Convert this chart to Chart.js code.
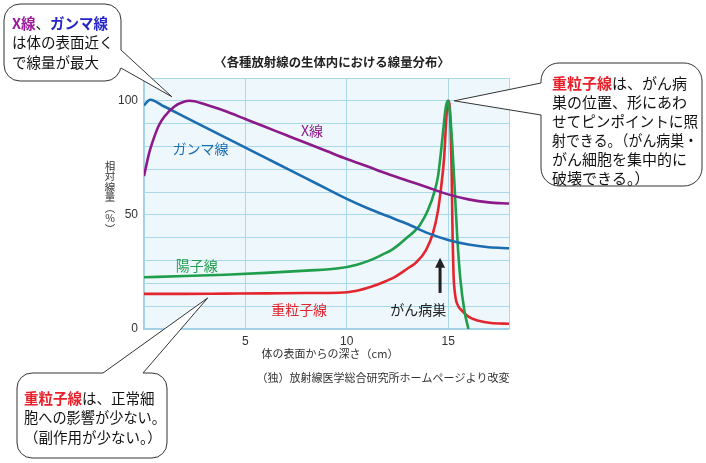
<!DOCTYPE html>
<html>
<head>
<meta charset="utf-8">
<script src="https://cdn.jsdelivr.net/npm/chart.js@4"></script>
<style>
  html, body { margin: 0; padding: 0; background: #fff; }
</style>
</head>
<body>
<canvas id="chart" width="706" height="463"></canvas>
<script>
// depth (cm) / relative dose (%)
const depthXray = [0, 0.25, 0.5, 0.75, 1, 1.5, 2, 2.25, 3, 4, 5, 6, 7, 8, 9, 10, 11, 12, 13, 14, 15, 16, 17, 18];
const doseXray  = [67, 77, 84, 89.5, 93, 97.5, 99.7, 100, 98.5, 95.5, 92, 88.5, 85, 81.5, 78, 74.5, 71.3, 68, 65, 62, 59, 56.8, 55.5, 55];

const depthGamma = [0, 0.3, 1, 2, 3, 4, 5, 6, 7, 8, 9, 10, 11, 12, 13, 14, 15, 16, 17, 18];
const doseGamma  = [98, 100.5, 97.5, 93, 88.5, 84, 79.5, 75, 70.5, 66, 61.5, 57, 53, 49.5, 46, 42, 39, 37, 35.8, 35.4];

const depthProton = [0, 2, 4, 6, 8, 9.6, 10.5, 11.2, 11.8, 12.2, 12.6, 13, 13.3, 13.6, 14, 14.35, 14.5, 14.65, 14.8, 14.88, 14.97, 15.06, 15.15, 15.3, 15.45, 15.6, 15.8, 16];
const doseProton  = [22.7, 23.2, 23.8, 24.6, 25.6, 26.6, 28.2, 30.3, 32.8, 34.6, 37.2, 40.3, 42.5, 45.5, 52, 61, 67, 78, 91, 97, 100, 97, 88, 65, 40, 22, 8, 0];

const depthCarbon = [0, 2, 4, 6, 8, 9.6, 10.5, 11.2, 11.8, 12.4, 13, 13.4, 13.9, 14.25, 14.5, 14.65, 14.8, 14.9, 14.96, 15.02, 15.08, 15.12, 15.17, 15.22, 15.26, 15.36, 15.5, 15.65, 16, 16.5, 17.1, 18];
const doseCarbon  = [15.4, 15.4, 15.5, 15.6, 15.8, 15.9, 16.8, 18.5, 20.5, 23, 26.5, 29, 34.5, 42, 52, 62, 75, 91, 98, 100, 97, 88, 70, 40, 25, 14, 10, 8.3, 5.4, 3.6, 2.6, 2.3];

const xMax = 18, xStep = 5, xLabelEvery = 5;
const yMax = 110, yStep = 10, yLabelEvery = 50;

const JP = '"Noto Sans CJK JP", sans-serif';
const PURPLE = '#8c1a8a', BLUE = '#1c6db0', GREEN = '#1f9e4b', RED = '#e3262e';

function pts(xs, ys) {
    return xs.map(function(x, i) { return { x: x, y: ys[i] }; });
}

function series(label, xs, ys, color) {
    return {
        label: label,
        data: pts(xs, ys),
        borderColor: color,
        borderWidth: 2.6,
        pointRadius: 0,
        fill: false,
        cubicInterpolationMode: 'monotone',
    };
}

// text lines made of coloured pieces, squeezed if too wide
function drawLines(ctx, lines, x, y0, lh, size, maxW) {
    ctx.textBaseline = 'middle';
    ctx.textAlign = 'left';
    lines.forEach(function(line, i) {
        let total = 0;
        line.forEach(function(seg) {
            ctx.font = (seg[2] ? 'bold ' : '') + size + 'px ' + JP;
            total += ctx.measureText(seg[0]).width;
        });
        const k = Math.min(1, maxW / total);
        ctx.save();
        ctx.translate(x, y0 + i * lh);
        ctx.scale(k, 1);
        let cx = 0;
        line.forEach(function(seg) {
            ctx.font = (seg[2] ? 'bold ' : '') + size + 'px ' + JP;
            ctx.fillStyle = seg[1];
            ctx.fillText(seg[0], cx, 0);
            cx += ctx.measureText(seg[0]).width;
        });
        ctx.restore();
    });
}

function bubble(ctx, r, a, b, tip, inset) {
    ctx.save();
    ctx.lineWidth = 1;
    ctx.strokeStyle = '#333';
    ctx.fillStyle = '#fff';
    ctx.beginPath();
    ctx.roundRect(r[0], r[1], r[2], r[3], r[4]);
    ctx.fill();
    ctx.stroke();
    // tail
    ctx.beginPath();
    ctx.moveTo(a[0] + inset[0], a[1] + inset[1]);
    ctx.lineTo(a[0], a[1]);
    ctx.lineTo(tip[0], tip[1]);
    ctx.lineTo(b[0], b[1]);
    ctx.lineTo(b[0] + inset[0], b[1] + inset[1]);
    ctx.closePath();
    ctx.fill();
    ctx.beginPath();
    ctx.moveTo(a[0], a[1]);
    ctx.lineTo(tip[0], tip[1]);
    ctx.lineTo(b[0], b[1]);
    ctx.stroke();
    ctx.restore();
}

function label(ctx, s, x, y, color, font) {
    ctx.font = font;
    ctx.fillStyle = color;
    ctx.textAlign = 'center';
    ctx.textBaseline = 'middle';
    ctx.fillText(s, x, y);
}

const decor = {
    id: 'decor',
    beforeDraw(chart) {
        const ctx = chart.ctx, a = chart.chartArea;
        ctx.save();
        ctx.fillStyle = '#eef7fc';
        ctx.fillRect(a.left, a.top, a.right - a.left, a.bottom - a.top);
        ctx.restore();
    },
    afterDatasetsDraw(chart) {
        const ctx = chart.ctx, xs = chart.scales.x, ys = chart.scales.y;
        const X = function(v) { return xs.getPixelForValue(v); };
        const Y = function(v) { return ys.getPixelForValue(v); };
        ctx.save();
        label(ctx, 'ガンマ線', X(2.79), Y(79), BLUE, '14px ' + JP);
        label(ctx, 'X線', X(8.28), Y(86.8), PURPLE, '14px ' + JP);
        label(ctx, '陽子線', X(2.6), Y(27.6), GREEN, '14px ' + JP);
        label(ctx, '重粒子線', X(7.65), Y(8.3), RED, '14px ' + JP);
        label(ctx, 'がん病巣', X(13.53), Y(8.3), '#222', '14px ' + JP);

        // arrow to the tumour
        const ax = X(14.6), y1 = Y(15.8), y2 = Y(31.2);
        ctx.strokeStyle = '#222';
        ctx.fillStyle = '#222';
        ctx.lineWidth = 3;
        ctx.beginPath();
        ctx.moveTo(ax, y1);
        ctx.lineTo(ax, y2 + 8);
        ctx.stroke();
        ctx.beginPath();
        ctx.moveTo(ax, y2);
        ctx.lineTo(ax - 5, y2 + 10);
        ctx.lineTo(ax + 5, y2 + 10);
        ctx.closePath();
        ctx.fill();
        ctx.restore();
    },
    afterDraw(chart) {
        const ctx = chart.ctx, xs = chart.scales.x, ys = chart.scales.y;
        const P = function(x, y) { return [xs.getPixelForValue(x), ys.getPixelForValue(y)]; };
        ctx.save();

        // titles
        label(ctx, '〈各種放射線の生体内における線量分布〉', 332, 62, '#222', 'bold 12.4px ' + JP);
        label(ctx, '体の表面からの深さ（cm）', 330, 354, '#333', '11px ' + JP);
        label(ctx, '（独）放射線医学総合研究所ホームページより改変', 383, 378, '#333', '11px ' + JP);

        // vertical y title
        const vt = ['相', '対', '線', '量', '︵', '%', '︶'];
        ctx.font = '10.5px ' + JP;
        ctx.fillStyle = '#333';
        ctx.textAlign = 'center';
        ctx.textBaseline = 'middle';
        vt.forEach(function(c, i) { ctx.fillText(c, 110, 166 + i * 10.5); });

        // call-outs
        bubble(ctx, [4, 4, 117, 77, 16], [121, 50], [121, 68], P(1.37, 101.8), [-3, 0]);
        drawLines(ctx, [
            [['X線', '#9b1a9b', true], ['、', '#111', false], ['ガンマ線', '#2525c8', true]],
            [['は体の表面近く', '#111', false]],
            [['で線量が最大', '#111', false]],
        ], 12, 23, 19.5, 14.5, 106);

        bubble(ctx, [541, 63, 161, 123, 18], [541, 83], [541, 115], P(15.3, 100), [3, 0]);
        drawLines(ctx, [
            [['重粒子線', '#e8202a', true], ['は、がん病', '#111', false]],
            [['巣の位置、形にあわ', '#111', false]],
            [['せてピンポイントに照', '#111', false]],
            [['射できる。（がん病巣・', '#111', false]],
            [['がん細胞を集中的に', '#111', false]],
            [['破壊できる。）', '#111', false]],
        ], 552, 83, 19, 15, 146);

        bubble(ctx, [17, 373, 150, 85, 15], [103, 373], [143, 373], P(3.14, 13.6), [0, 3]);
        drawLines(ctx, [
            [['重粒子線', '#e8202a', true], ['は、正常細', '#111', false]],
            [['胞への影響が少ない。', '#111', false]],
            [['（副作用が少ない。）', '#111', false]],
        ], 24, 398, 19.5, 14.5, 142);

        ctx.restore();
    }
};

const ctx = document.getElementById('chart').getContext('2d');

const config = {
    type: 'line',
    data: {
        datasets: [
            series('X線', depthXray, doseXray, PURPLE),
            series('ガンマ線', depthGamma, doseGamma, BLUE),
            series('陽子線', depthProton, doseProton, GREEN),
            series('重粒子線', depthCarbon, doseCarbon, RED),
        ],
    },
    options: {
        responsive: false,
        animation: false,
        layout: { padding: { left: 0, top: 78, right: 197, bottom: 0 } },
        plugins: {
            legend: { display: false },
            tooltip: { enabled: false },
        },
        scales: {
            x: {
                type: 'linear',
                min: 0,
                max: xMax,
                afterFit: function(s) { s.height = 134; },
                grid: { color: '#a9d8e9', lineWidth: 1, drawTicks: false },
                border: { color: '#9fd0e3', width: 1.5 },
                ticks: {
                    stepSize: xStep,
                    autoSkip: false,
                    maxRotation: 0,
                    padding: 5,
                    color: '#333',
                    font: { family: '"Liberation Sans", Arial, sans-serif', size: 12 },
                    callback: function(v) { return (v > 0 && v % xLabelEvery === 0) ? v : ''; },
                },
            },
            y: {
                min: 0,
                max: yMax,
                afterFit: function(s) { s.width = 144; },
                grid: { color: '#a9d8e9', lineWidth: 1, drawTicks: false },
                border: { color: '#9fd0e3', width: 1.5 },
                ticks: {
                    stepSize: yStep,
                    autoSkip: false,
                    padding: 6,
                    color: '#333',
                    font: { family: '"Liberation Sans", Arial, sans-serif', size: 12 },
                    callback: function(v) { return v % yLabelEvery === 0 ? v : ''; },
                },
            },
        },
    },
    plugins: [decor],
};

const myChart = new Chart(ctx, config);
</script>
</body>
</html>
